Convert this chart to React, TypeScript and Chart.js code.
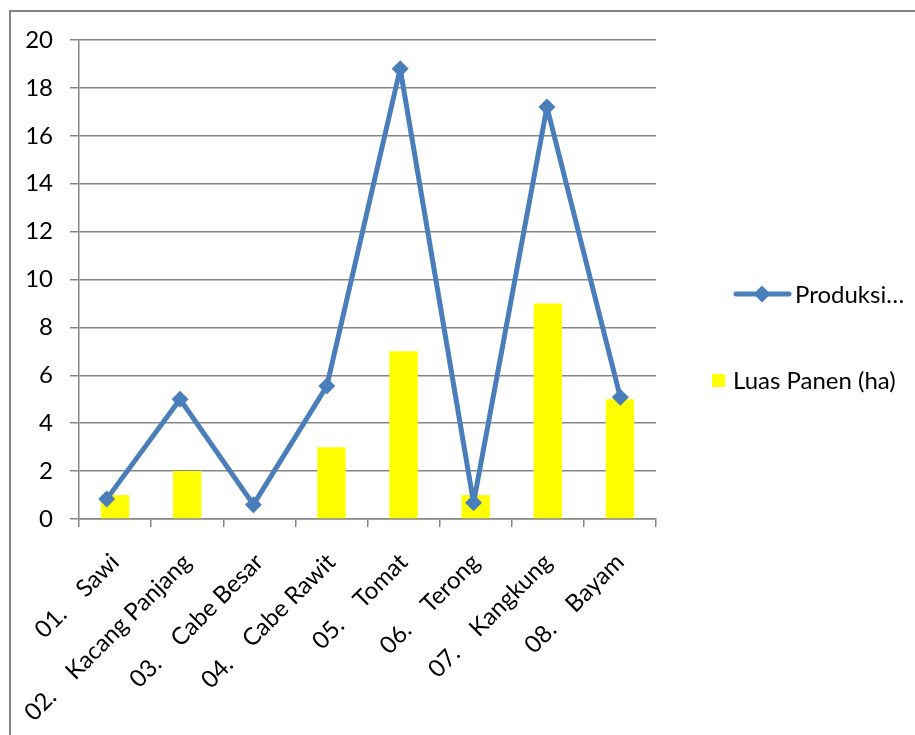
import React, { useEffect, useRef } from "react";
import { Chart, registerables } from "chart.js";

Chart.register(...registerables);

const categories = [
  "01.    Sawi",
  "02.    Kacang Panjang",
  "03.    Cabe Besar",
  "04.    Cabe Rawit",
  "05.    Tomat",
  "06.    Terong",
  "07.    Kangkung",
  "08.    Bayam",
];
const produksi = [0.83, 5.0, 0.6, 5.55, 18.8, 0.68, 17.2, 5.08];
const luasPanen = [1, 2, 0, 3, 7, 1, 9, 5];
const yTicks = [0, 2, 4, 6, 8, 10, 12, 14, 16, 18, 20];
const legendLabels = ["Produksi…", "Luas Panen (ha)"];

const FONT = "Lato, 'Open Sans', sans-serif";
const FSIZE = 24;
const BLUE = "#4A7EBB";
const YELLOW = "#FFFF00";
const GRID = "#868686";

const legendPlugin = {
  id: "customLegend",
  afterDraw(chart: any) {
    const ctx = chart.ctx;
    ctx.save();
    ctx.font = `${FSIZE}px ${FONT}`;
    ctx.textBaseline = "middle";
    ctx.textAlign = "left";
    const y1 = 294;
    ctx.strokeStyle = BLUE;
    ctx.lineWidth = 5;
    ctx.lineCap = "round";
    ctx.beginPath();
    ctx.moveTo(736, y1);
    ctx.lineTo(789, y1);
    ctx.stroke();
    ctx.fillStyle = BLUE;
    ctx.beginPath();
    ctx.moveTo(762, y1 - 8.5);
    ctx.lineTo(770.5, y1);
    ctx.lineTo(762, y1 + 8.5);
    ctx.lineTo(753.5, y1);
    ctx.closePath();
    ctx.fill();
    ctx.fillStyle = "#000";
    ctx.fillText(legendLabels[0], 795, y1 + 1);
    const y2 = 381;
    ctx.fillStyle = YELLOW;
    ctx.fillRect(712, y2 - 7, 13, 13);
    ctx.fillStyle = "#000";
    ctx.fillText(legendLabels[1], 733, y2);
    ctx.restore();
  },
};

export default function App() {
  const ref = useRef<HTMLCanvasElement>(null);
  useEffect(() => {
    if (!ref.current) return;
    const chart = new Chart(ref.current, {
      type: "bar",
      data: {
        labels: categories,
        datasets: [
          {
            type: "line",
            label: legendLabels[0],
            data: produksi.map((v, i) => ({ x: i, y: v })),
            xAxisID: "x2",
            borderColor: BLUE,
            backgroundColor: BLUE,
            borderWidth: 5,
            borderJoinStyle: "round",
            borderCapStyle: "round",
            pointStyle: "rectRot",
            pointRadius: 8.5,
            pointBorderWidth: 0,
            pointBackgroundColor: BLUE,
            tension: 0,
            order: 0,
          } as any,
          {
            type: "bar",
            label: legendLabels[1],
            data: luasPanen,
            backgroundColor: YELLOW,
            borderWidth: 0,
            grouped: false,
            categoryPercentage: 1,
            barPercentage: 0.393,
            order: 1,
          } as any,
        ],
      },
      options: {
        animation: false,
        responsive: false,
        maintainAspectRatio: false,
        layout: { padding: { left: 0, top: 40, right: 259, bottom: 0 } },
        plugins: { legend: { display: false }, tooltip: { enabled: false } },
        scales: {
          x: {
            type: "category",
            offset: true,
            grid: {
              display: true,
              drawOnChartArea: false,
              drawTicks: true,
              tickLength: 8,
              color: GRID,
              lineWidth: 1.5,
              offset: true,
            },
            border: { display: true, color: GRID, width: 1.5 },
            ticks: {
              maxRotation: 45,
              minRotation: 45,
              autoSkip: false,
              padding: 21,
              color: "#000",
              font: { family: FONT, size: FSIZE },
            },
            afterFit(scale: any) {
              scale.height = 216;
            },
          },
          x2: {
            type: "linear",
            display: false,
            offset: false,
            grid: { offset: false },
            min: -0.377,
            max: 7.486,
          },
          y: {
            min: 0,
            max: 20,
            afterBuildTicks(scale: any) {
              scale.ticks = yTicks.map((v) => ({ value: v }));
            },
            grid: {
              color: GRID,
              lineWidth: 1.5,
              tickLength: 9,
              drawTicks: true,
            },
            border: { display: true, color: GRID, width: 1.5 },
            ticks: {
              padding: 17,
              color: "#000",
              font: { family: FONT, size: FSIZE },
            },
            afterFit(scale: any) {
              scale.width = 79;
            },
          },
        },
      },
      plugins: [legendPlugin],
    });
    return () => chart.destroy();
  }, []);

  return (
    <div
      style={{
        position: "fixed",
        left: 0,
        top: 0,
        width: 915,
        height: 735,
        overflow: "hidden",
        background: "#fff",
      }}
    >
      <div
        style={{
          position: "absolute",
          left: 9,
          top: 10,
          width: 1000,
          height: 1000,
          border: `2px solid ${GRID}`,
          boxSizing: "border-box",
        }}
      />
      <canvas
        ref={ref}
        width={915}
        height={735}
        style={{ position: "absolute", left: 0, top: 0, width: 915, height: 735 }}
      />
    </div>
  );
}
